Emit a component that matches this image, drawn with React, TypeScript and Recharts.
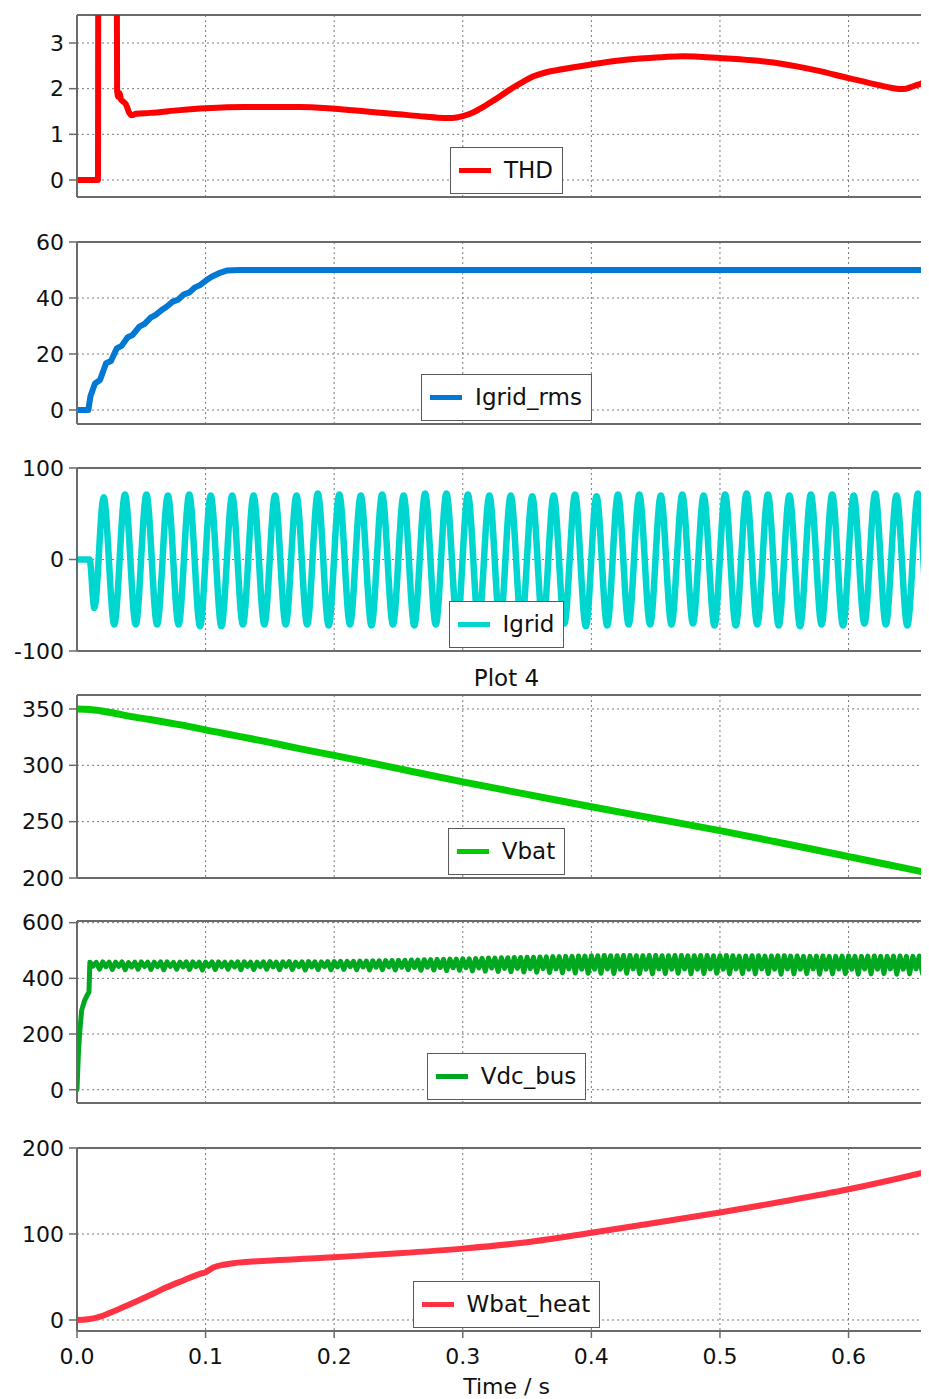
import React from 'react';
import { LineChart, Line, XAxis, YAxis, CartesianGrid, ReferenceLine, Legend } from 'recharts';

type Pt = [number, number];

const FONT = '"DejaVu Sans", Verdana, sans-serif';
const X_DOMAIN: [number, number] = [0, 0.668];
const X_TICKS = [0, 0.1, 0.2, 0.3, 0.4, 0.5, 0.6];

// THD (clipped start-up spike, then slow swing)
const thdPoints: Pt[] = [
  [0, 0], [0.0163, 0], [0.0166, 6], [0.0308, 6], [0.0312, 1.95], [0.0322, 1.82], [0.0332, 1.9],
  [0.0342, 1.76], [0.0358, 1.72], [0.038, 1.66], [0.0405, 1.48], [0.0425, 1.42], [0.046, 1.45],
  [0.057, 1.47], [0.08, 1.53], [0.1, 1.57], [0.13, 1.6], [0.16, 1.6], [0.173, 1.6], [0.2, 1.56],
  [0.225, 1.5], [0.25, 1.44], [0.27, 1.39], [0.285, 1.36], [0.292, 1.36], [0.3, 1.4], [0.308, 1.48],
  [0.316, 1.6], [0.325, 1.76], [0.334, 1.93], [0.345, 2.12], [0.355, 2.27], [0.365, 2.36],
  [0.376, 2.42], [0.4, 2.53], [0.42, 2.61], [0.438, 2.66], [0.455, 2.69], [0.471, 2.71], [0.5, 2.67],
  [0.525, 2.62], [0.549, 2.54], [0.575, 2.4], [0.6, 2.23], [0.62, 2.1], [0.635, 2.01], [0.642, 1.99],
  [0.647, 2.02], [0.652, 2.07], [0.658, 2.14], [0.6625, 2.31], [0.668, 2.45],
];

// Igrid_rms (stepped ramp up to 50 A)
const igridRmsPoints: Pt[] = [
  [0, 0], [0.0088, 0], [0.0105, 5], [0.014, 9.5], [0.0179, 10.7], [0.0226, 16.7], [0.0264, 17.5],
  [0.0309, 22], [0.0347, 22.9], [0.0394, 26], [0.0433, 26.8], [0.0485, 29.8], [0.0524, 30.7],
  [0.0573, 33], [0.0612, 34], [0.0658, 35.7], [0.0697, 36.9], [0.0744, 38.7], [0.0783, 39.3],
  [0.0832, 41.3], [0.0871, 41.9], [0.0918, 43.8], [0.0956, 44.6], [0.1008, 46.4], [0.1047, 47.6],
  [0.1112, 49], [0.1164, 49.8], [0.1267, 50], [0.3, 50], [0.5, 50], [0.668, 50],
];

// Igrid (peaks and troughs of the 60 Hz grid current)
const igridPoints: Pt[] = [
  [0, 0], [0.0098, 0], [0.0135, -53], [0.0207, 68],
  [0.029, -71], [0.0373, 71], [0.0457, -71], [0.054, 71], [0.0623, -71], [0.0707, 70], [0.079, -71],
  [0.0873, 71], [0.0957, -73], [0.104, 70], [0.1123, -73], [0.1207, 70], [0.129, -71], [0.1373, 70],
  [0.1457, -71], [0.154, 70], [0.1623, -71], [0.1707, 70], [0.179, -71], [0.1873, 72], [0.1957, -72],
  [0.204, 71], [0.2123, -71], [0.2207, 70], [0.229, -72], [0.2373, 71], [0.2457, -71], [0.254, 70],
  [0.2623, -72], [0.2707, 72], [0.279, -71], [0.2873, 72], [0.2957, -70], [0.304, 71], [0.3123, -70],
  [0.3207, 70], [0.329, -71], [0.3373, 70], [0.3457, -72], [0.354, 69], [0.3623, -71], [0.3707, 70],
  [0.379, -70], [0.3873, 71], [0.3957, -73], [0.404, 69], [0.4123, -72], [0.4207, 71], [0.429, -71],
  [0.4373, 71], [0.4457, -71], [0.454, 70], [0.4623, -71], [0.4707, 71], [0.479, -70], [0.4873, 70],
  [0.4957, -72], [0.504, 71], [0.5123, -72], [0.5207, 72], [0.529, -71], [0.5373, 71], [0.5457, -72],
  [0.554, 70], [0.5623, -73], [0.5707, 71], [0.579, -71], [0.5873, 71], [0.5957, -72], [0.604, 70],
  [0.6123, -70], [0.6207, 72], [0.629, -71], [0.6373, 70], [0.6457, -72], [0.654, 72], [0.6623, -71],
  [0.6707, 70],
];

// Vbat (battery voltage discharging)
const vbatPoints: Pt[] = [
  [0, 350], [0.01, 349.6], [0.018, 348.5], [0.03, 346], [0.044, 343], [0.057, 340.6], [0.07, 338],
  [0.085, 335], [0.1, 331.4], [0.122, 326.6], [0.148, 320.8], [0.173, 314.8], [0.2, 308.8], [0.25, 297],
  [0.3, 285.3], [0.35, 274.2], [0.4, 263.2], [0.45, 252.6], [0.5, 242], [0.55, 230.6], [0.6, 219],
  [0.63, 212], [0.662, 204.4], [0.668, 203],
];

// Vdc_bus start-up (capacitor charge) and the ripple band sampled every 2.5 ms from 10 ms on
const vdcStartPoints: Pt[] = [
  [0, 0], [0.001, 120], [0.002, 200], [0.0036, 285], [0.006, 321], [0.0078, 339], [0.0093, 350],
];
const VDC_RIPPLE_T0 = 0.01;
const VDC_RIPPLE_DT = 0.0025;
const vdcRippleSamples = [
  458, 444, 457, 433, 459, 442, 458, 432, 458, 443, 459, 431, 457, 441, 458, 433,
  459, 443, 458, 432, 458, 442, 459, 431, 459, 443, 457, 433, 458, 441, 459, 432,
  459, 442, 458, 430, 458, 443, 459, 432, 459, 442, 458, 433, 458, 441, 459, 431,
  459, 443, 458, 432, 458, 442, 459, 433, 460, 441, 458, 431, 459, 443, 460, 432,
  458, 442, 459, 430, 460, 441, 459, 432, 459, 442, 460, 431, 460, 441, 461, 432,
  461, 442, 461, 431, 462, 441, 462, 430, 463, 440, 463, 431, 464, 441, 464, 430,
  465, 440, 465, 431, 466, 439, 466, 429, 467, 440, 467, 430, 468, 439, 468, 428,
  469, 438, 469, 429, 470, 438, 470, 427, 471, 437, 472, 426, 473, 437, 473, 425,
  474, 436, 474, 424, 475, 436, 475, 423, 476, 435, 476, 422, 477, 435, 477, 421,
  478, 434, 478, 420, 479, 434, 479, 419, 480, 433, 480, 418, 481, 433, 481, 418,
  482, 434, 481, 417, 481, 433, 482, 418, 482, 434, 481, 417, 481, 433, 482, 416,
  482, 434, 481, 417, 481, 433, 482, 418, 482, 434, 481, 416, 481, 433, 482, 417,
  482, 434, 481, 418, 481, 433, 482, 416, 481, 434, 480, 417, 480, 433, 481, 416,
  481, 434, 480, 417, 480, 433, 481, 415, 481, 434, 480, 416, 480, 433, 479, 417,
  479, 434, 480, 415, 480, 433, 479, 416, 479, 434, 480, 417, 480, 433, 479, 415,
  479, 434, 480, 416, 480, 433, 479, 417, 479, 434, 480, 415, 480, 433, 479, 416,
  479, 434, 480, 417, 480, 433, 479, 416,
];
const vdcPoints: Pt[] = [
  ...vdcStartPoints,
  ...vdcRippleSamples.map((v, i): Pt => [VDC_RIPPLE_T0 + i * VDC_RIPPLE_DT, v]),
];

// Wbat_heat (accumulated battery heat)
const wbatPoints: Pt[] = [
  [0, 0], [0.0085, 0.8], [0.018, 4], [0.031, 11.7], [0.0438, 20], [0.057, 29], [0.0697, 38],
  [0.0827, 46], [0.0956, 53.7], [0.1, 55.6], [0.106, 61], [0.1138, 64.2], [0.1216, 66],
  [0.1475, 68.9], [0.189, 72], [0.2, 73], [0.25, 77.5], [0.3, 83], [0.35, 90.5], [0.4, 101.5],
  [0.45, 113], [0.5, 125], [0.55, 138], [0.6, 152], [0.6625, 173], [0.668, 175],
];

const thdTicks = [0, 1, 2, 3];
const igridRmsTicks = [0, 20, 40, 60];
const igridTicks = [-100, 0, 100];
const vbatTicks = [200, 250, 300, 350];
const vdcTicks = [0, 200, 400, 600];
const wbatTicks = [0, 100, 200];

const CHART_W = 928;
const Y_W = 69;
const PLOT_W = CHART_W - Y_W;
const M_TOP = 14;
const M_BOTTOM = 14;
const FRAME = '#6a6a6a';
const GRID = '#7a7a7a';

// x ticks are kept (so the vertical grid follows them) but drawn empty on the upper panels
const NoTick = () => <g />;

function LegendBox({ name, color }: { name: string; color: string }) {
  return (
    <div style={{ display: 'flex', justifyContent: 'center', width: '100%' }}>
      <div
        style={{
          display: 'flex',
          alignItems: 'center',
          height: 47,
          boxSizing: 'border-box',
          border: '1.5px solid #5a5a5a',
          background: '#ffffff',
          padding: '0 9px 0 8px',
        }}
      >
        <span style={{ display: 'inline-block', width: 32, height: 5, background: color, marginRight: 13 }} />
        <span style={{ fontFamily: FONT, fontSize: 23, color: '#111', lineHeight: '23px' }}>{name}</span>
      </div>
    </div>
  );
}

interface PanelProps {
  top: number;
  plotHeight: number;
  domain: [number, number];
  ticks: number[];
  points: Pt[];
  name: string;
  color: string;
  strokeWidth: number;
  curve: 'monotone' | 'linear';
  last?: boolean;
}

function Panel({ top, plotHeight, domain, ticks, points, name, color, strokeWidth, curve, last }: PanelProps) {
  const rows = points.map(([t, v]) => ({ t, v }));
  const xAxisH = last ? 64 : 1;
  const bottom = last ? 4 : M_BOTTOM;
  const height = M_TOP + plotHeight + xAxisH + bottom;
  return (
    <div style={{ position: 'absolute', left: 0, top: top - M_TOP }}>
      <LineChart width={CHART_W} height={height} data={rows} margin={{ top: M_TOP, right: 0, bottom, left: 0 }}>
        <CartesianGrid stroke={GRID} strokeDasharray="2 3" strokeWidth={1} />
        <XAxis
          dataKey="t"
          type="number"
          domain={X_DOMAIN}
          ticks={X_TICKS}
          interval={0}
          allowDataOverflow
          height={xAxisH}
          axisLine={{ stroke: FRAME, strokeWidth: 2 }}
          tickLine={last ? { stroke: FRAME, strokeWidth: 1.5 } : false}
          tickSize={7}
          tickMargin={10}
          tick={last ? { fill: '#111', fontSize: 22, fontFamily: FONT } : NoTick}
          tickFormatter={(v: number) => v.toFixed(1)}
          label={
            last
              ? { value: 'Time / s', position: 'insideBottom', offset: 1, fill: '#111', fontSize: 22, fontFamily: FONT }
              : undefined
          }
        />
        <YAxis
          type="number"
          width={Y_W}
          domain={domain}
          ticks={ticks}
          interval={0}
          allowDataOverflow
          axisLine={{ stroke: FRAME, strokeWidth: 2 }}
          tickLine={{ stroke: FRAME, strokeWidth: 1.5 }}
          tickSize={8}
          tickMargin={5}
          tick={{ fill: '#111', fontSize: 22, fontFamily: FONT }}
        />
        <ReferenceLine y={domain[1]} stroke={FRAME} strokeWidth={2} ifOverflow="visible" />
        <Line
          type={curve}
          dataKey="v"
          name={name}
          stroke={color}
          strokeWidth={strokeWidth}
          strokeLinejoin="round"
          strokeLinecap="round"
          dot={false}
          activeDot={false}
          isAnimationActive={false}
        />
        <Legend
          layout="horizontal"
          verticalAlign="middle"
          align="center"
          wrapperStyle={{ left: Y_W, width: PLOT_W, top: M_TOP + plotHeight - 3 - 47, height: 47 }}
          content={() => <LegendBox name={name} color={color} />}
        />
      </LineChart>
    </div>
  );
}

export default function App() {
  return (
    <div
      style={{
        position: 'relative',
        width: 921,
        height: 1391,
        overflow: 'hidden',
        background: '#ffffff',
        fontFamily: FONT,
      }}
    >
      <Panel top={7} plotHeight={182} domain={[-0.372, 3.613]} ticks={thdTicks} points={thdPoints}
        name="THD" color="#ff0000" strokeWidth={6} curve="monotone" />
      <Panel top={234} plotHeight={182} domain={[-5, 60]} ticks={igridRmsTicks} points={igridRmsPoints}
        name="Igrid_rms" color="#0078d4" strokeWidth={6} curve="linear" />
      <Panel top={460} plotHeight={183} domain={[-100, 100]} ticks={igridTicks} points={igridPoints}
        name="Igrid" color="#00d6d0" strokeWidth={6.5} curve="monotone" />
      <div
        style={{
          position: 'absolute',
          left: Y_W,
          width: PLOT_W,
          top: 659,
          textAlign: 'center',
          fontFamily: FONT,
          fontSize: 23,
          lineHeight: '23px',
          color: '#111',
        }}
      >
        Plot 4
      </div>
      <Panel top={687} plotHeight={183} domain={[200, 362.4]} ticks={vbatTicks} points={vbatPoints}
        name="Vbat" color="#00cc00" strokeWidth={7} curve="monotone" />
      <Panel top={913} plotHeight={182} domain={[-47.7, 606]} ticks={vdcTicks} points={vdcPoints}
        name="Vdc_bus" color="#00a820" strokeWidth={5} curve="linear" />
      <Panel top={1140} plotHeight={183} domain={[-12.8, 200]} ticks={wbatTicks} points={wbatPoints}
        name="Wbat_heat" color="#ff3344" strokeWidth={6} curve="monotone" last />
    </div>
  );
}
